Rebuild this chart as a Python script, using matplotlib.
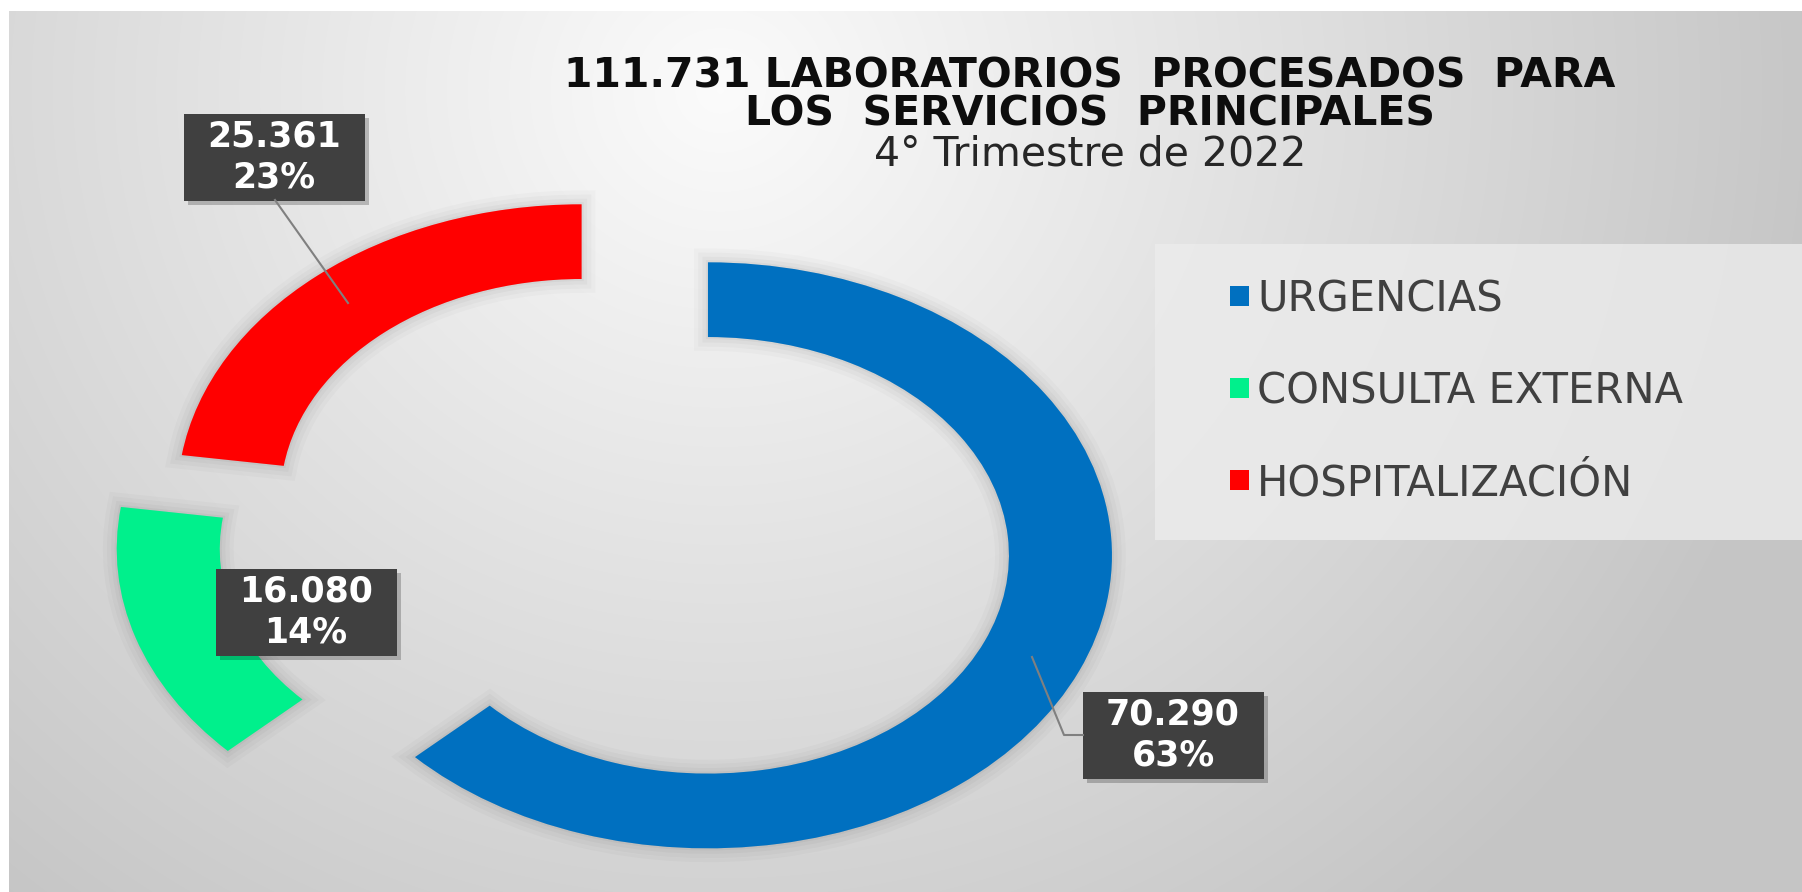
import matplotlib.pyplot as plt
import matplotlib.patheffects as pe
import numpy as np
from matplotlib.patches import Rectangle, Patch

categories = ['URGENCIAS', 'CONSULTA EXTERNA', 'HOSPITALIZACIÓN']
values = [70290, 16080, 25361]
colors = ['#0070C0', '#00F08C', '#FF0000']

title_1 = 'LABORATORIOS  PROCESADOS  PARA'
title_2 = 'LOS  SERVICIOS  PRINCIPALES'
subtitle = '4° Trimestre de 2022'

W, H = 1802, 892
total = sum(values)


def fmt(v):
    return f'{v:,}'.replace(',', '.')


fig = plt.figure(figsize=(W / 100, H / 100), dpi=100)
fig.patch.set_facecolor('white')

# gray gradient background
bg = fig.add_axes([0, 0, 1, 1], zorder=0)
yy, xx = np.mgrid[0:H, 0:W]
d = np.hypot((xx - 720) / 900, (yy - 90) / 850)
shade = np.clip(0.985 - 0.17 * d, 0.775, 1)
img = np.dstack([shade] * 3)
img[:11, :] = 1
img[:, :9] = 1
bg.imshow(img, extent=(0, W, H, 0), aspect='auto', interpolation='bilinear')
bg.set_xlim(0, W)
bg.set_ylim(H, 0)
bg.axis('off')
# lighter legend area
bg.add_patch(Rectangle((1155, 244), W - 1155, 296, facecolor='#ececec',
                       alpha=0.8, edgecolor='none'))

# exploded doughnut, stretched horizontally like the original
cx, cy, rx, ry = 617, 527, 404, 293
ax = fig.add_axes([0, 0, 1, 1], zorder=1)
wedges, _ = ax.pie(values, colors=colors, startangle=90, counterclock=False,
                   radius=1, explode=[0.245, 0.25, 0.134],
                   wedgeprops=dict(width=0.255, edgecolor='none'))
ax.set_aspect('auto')
ax.set_xlim(-cx / rx, (W - cx) / rx)
ax.set_ylim(-(H - cy) / ry, cy / ry)
ax.axis('off')
ax.patch.set_alpha(0)

# soft glow around the segments
for w in wedges:
    w.set_path_effects([
        pe.Stroke(linewidth=20, foreground='black', alpha=0.018),
        pe.Stroke(linewidth=14, foreground='black', alpha=0.022),
        pe.Stroke(linewidth=8, foreground='black', alpha=0.028),
        pe.Stroke(linewidth=3, foreground='black', alpha=0.035),
        pe.Normal()])

handles = [Patch(facecolor=c, edgecolor='none') for c in colors]
ax.legend(handles, categories, loc='center left',
          bbox_to_anchor=(1230 / W, 1 - 391 / H), bbox_transform=fig.transFigure,
          frameon=False, fontsize=30, labelcolor='#404040',
          handlelength=0.45, handleheight=0.38, handletextpad=0.2,
          labelspacing=1.2, borderpad=0, borderaxespad=0)

# overlay in pixel coordinates
ov = fig.add_axes([0, 0, 1, 1], zorder=2)
ov.set_xlim(0, W)
ov.set_ylim(H, 0)
ov.axis('off')
ov.patch.set_alpha(0)

ov.text(1090, 87, f'{fmt(total)} {title_1}', ha='center', va='baseline',
        fontsize=29.5, fontweight='bold', color='#0d0d0d')
ov.text(1090, 126, title_2, ha='center', va='baseline',
        fontsize=29.5, fontweight='bold', color='#0d0d0d')
ov.text(1090, 166, subtitle, ha='center', va='baseline',
        fontsize=29.5, color='#262626')

# data labels
label_xy = [(1173, 735), (306, 612), (274, 157)]
bw, bh = 181, 87
for v, (lx, ly) in zip(values, label_xy):
    pct = round(100 * v / total)
    ov.add_patch(Rectangle((lx - bw / 2 + 4, ly - bh / 2 + 4), bw, bh,
                           facecolor='black', alpha=0.22, edgecolor='none'))
    ov.add_patch(Rectangle((lx - bw / 2, ly - bh / 2), bw, bh,
                           facecolor='#404040', edgecolor='none'))
    ov.text(lx, ly, f'{fmt(v)}\n{pct}%', ha='center', va='center',
            fontsize=25, fontweight='bold', color='white', linespacing=1.25)

# leader lines
ov.plot([1032, 1064, 1083], [657, 735, 735], color='#808080', lw=1.5)
ov.plot([348, 275], [303, 200], color='#808080', lw=1.5)

plt.savefig('out.png', dpi=100)
plt.close()
